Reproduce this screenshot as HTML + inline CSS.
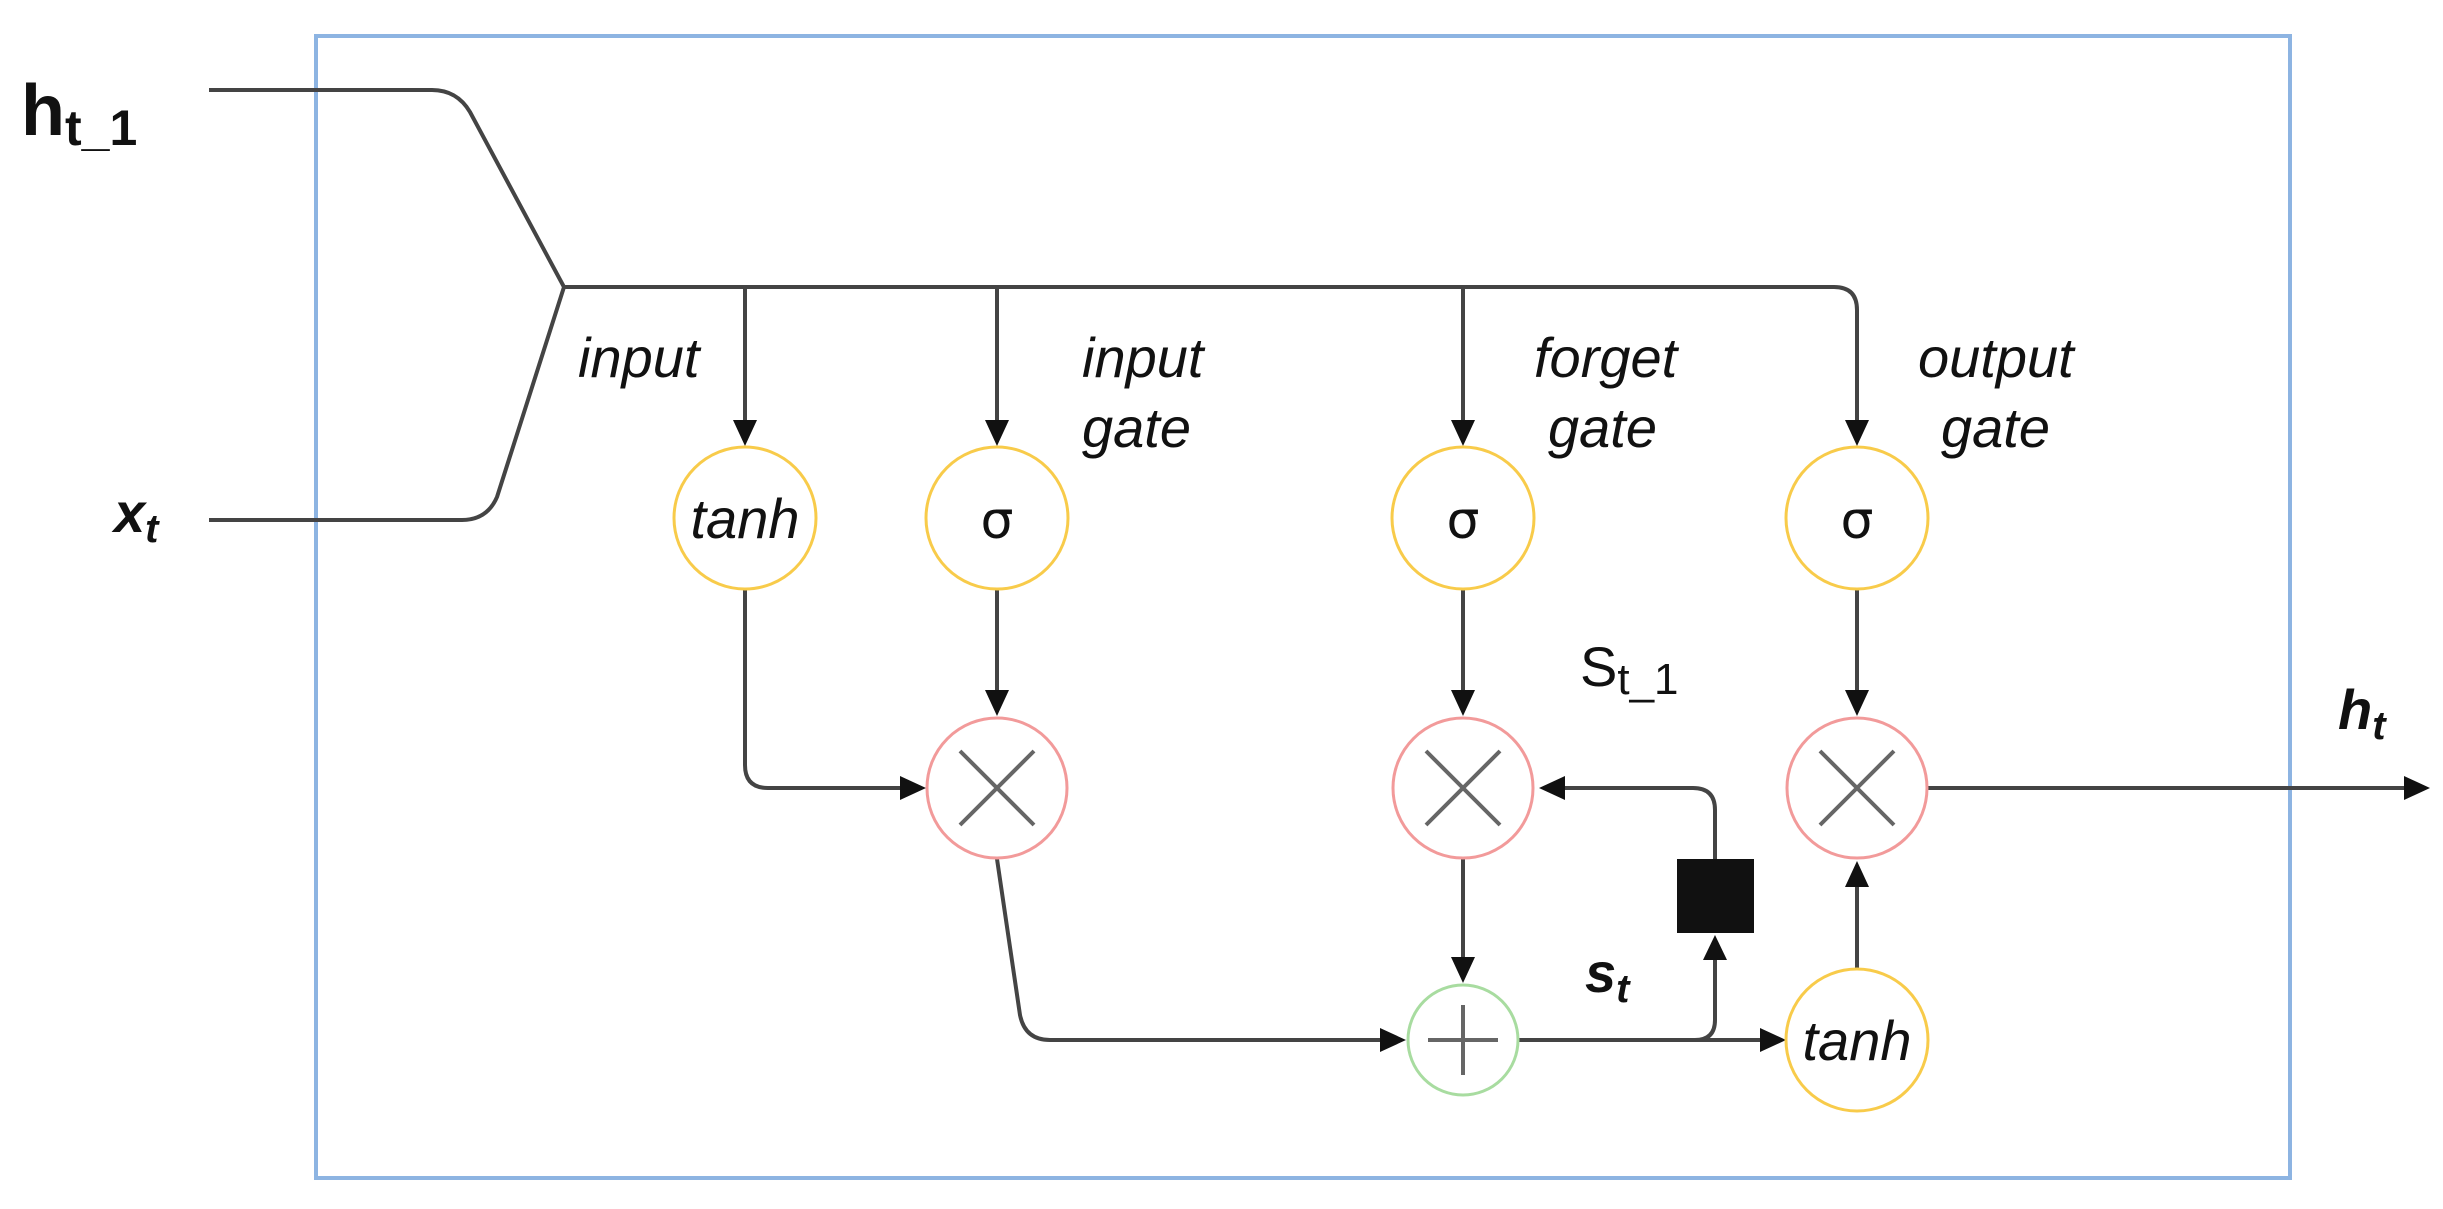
<!DOCTYPE html>
<html><head><meta charset="utf-8"><style>html,body{margin:0;padding:0;background:#fff}svg{display:block}</style></head>
<body>
<svg width="2443" height="1209" viewBox="0 0 2443 1209" xmlns="http://www.w3.org/2000/svg" font-family="Liberation Sans, Arial, sans-serif">
<rect x="316" y="36" width="1974" height="1142" fill="none" stroke="#8db4e2" stroke-width="4"/>
<g fill="none" stroke="#444" stroke-width="4">
<path d="M209 90 H432 Q457 90 470 112 L564 287 L497 497 Q487 520 462 520 H209"/>
<path d="M564 287 H1834 Q1857 287 1857 310 V440"/>
<path d="M745 287 V440"/><path d="M997 287 V440"/><path d="M1463 287 V440"/>
<path d="M745 589 V765 Q745 788 768 788 H910"/>
<path d="M997 589 V710"/><path d="M1463 589 V710"/><path d="M1857 589 V710"/>
<path d="M997 859 L1020 1015 Q1025 1040 1050 1040 H1392"/>
<path d="M1463 859 V968"/>
<path d="M1518 1040 H1765"/>
<path d="M1695 1040 Q1715 1040 1715 1020 V955"/>
<path d="M1715 859 V810 Q1715 788 1693 788 H1555"/>
<path d="M1857 969 V880"/>
<path d="M1928 788 H2410"/>
</g>
<g fill="#111">
<path d="M733 420 L757 420 L745 446 Z"/>
<path d="M985 420 L1009 420 L997 446 Z"/>
<path d="M1451 420 L1475 420 L1463 446 Z"/>
<path d="M1845 420 L1869 420 L1857 446 Z"/>
<path d="M985 690 L1009 690 L997 716 Z"/>
<path d="M1451 690 L1475 690 L1463 716 Z"/>
<path d="M1845 690 L1869 690 L1857 716 Z"/>
<path d="M900 776 L900 800 L926 788 Z"/>
<path d="M1451 957 L1475 957 L1463 983 Z"/>
<path d="M1380 1028 L1380 1052 L1406 1040 Z"/>
<path d="M1760 1028 L1760 1052 L1786 1040 Z"/>
<path d="M1703 960 L1727 960 L1715 935 Z"/>
<path d="M1845 887 L1869 887 L1857 861 Z"/>
<path d="M1565 776 L1565 800 L1539 788 Z"/>
<path d="M2404 776 L2404 800 L2430 788 Z"/>
<rect x="1677" y="859" width="77" height="74"/>
</g>
<g fill="#fff" stroke="#f8cb4a" stroke-width="3">
<circle cx="745" cy="518" r="71"/><circle cx="997" cy="518" r="71"/>
<circle cx="1463" cy="518" r="71"/><circle cx="1857" cy="518" r="71"/>
<circle cx="1857" cy="1040" r="71"/>
</g>
<g fill="#fff" stroke="#f29a9a" stroke-width="3">
<circle cx="997" cy="788" r="70"/><circle cx="1463" cy="788" r="70"/><circle cx="1857" cy="788" r="70"/>
</g>
<circle cx="1463" cy="1040" r="55" fill="#fff" stroke="#a8dca0" stroke-width="3"/>
<g stroke="#666" stroke-width="4">
<path d="M960 751 L1034 825 M1034 751 L960 825"/>
<path d="M1426 751 L1500 825 M1500 751 L1426 825"/>
<path d="M1820 751 L1894 825 M1894 751 L1820 825"/>
<path d="M1428 1040 H1498 M1463 1005 V1075"/>
</g>
<g font-size="56" fill="#111">
<text x="745" y="538" text-anchor="middle" font-style="italic">tanh</text>
<text x="1857" y="1060" text-anchor="middle" font-style="italic">tanh</text>
<text x="997" y="538" text-anchor="middle" font-family="DejaVu Sans, sans-serif" font-size="52">σ</text>
<text x="1463" y="538" text-anchor="middle" font-family="DejaVu Sans, sans-serif" font-size="52">σ</text>
<text x="1857" y="538" text-anchor="middle" font-family="DejaVu Sans, sans-serif" font-size="52">σ</text>
<g font-style="italic">
<text x="578" y="377">input</text>
<text x="1082" y="377">input</text><text x="1082" y="447">gate</text>
<text x="1534" y="377">forget</text><text x="1548" y="447">gate</text>
<text x="1918" y="377">output</text><text x="1941" y="447">gate</text>
</g>
<text x="21" y="135" font-size="72" font-weight="bold">h<tspan font-size="50" dy="10">t_1</tspan></text>
<text x="1580" y="686" font-size="56">S<tspan font-size="44" dy="8">t_1</tspan></text>
<text x="114" y="532" font-weight="bold" font-style="italic" font-size="56">x<tspan font-size="40" dy="10">t</tspan></text>
<text x="1585" y="992" font-weight="bold" font-style="italic" font-size="56">s<tspan font-size="40" dy="10">t</tspan></text>
<text x="2338" y="729" font-weight="bold" font-style="italic" font-size="56">h<tspan font-size="40" dy="10">t</tspan></text>
</g>
</svg>
</body></html>
